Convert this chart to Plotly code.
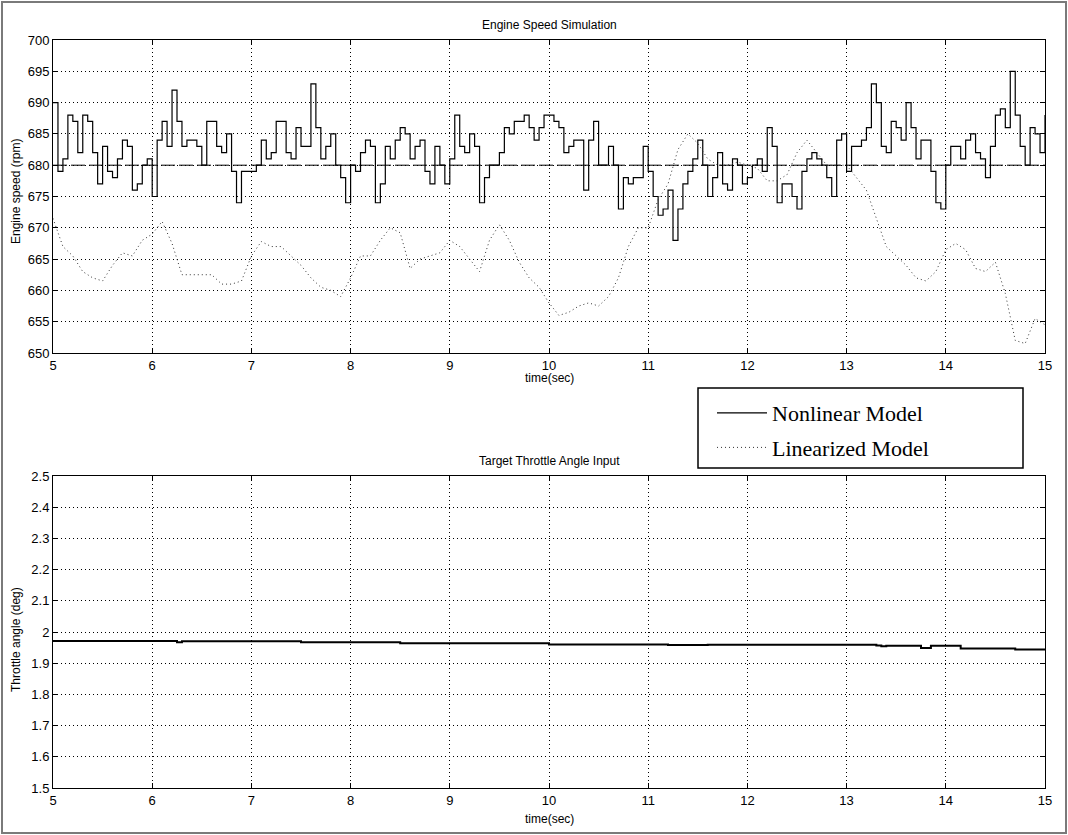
import numpy as np
import plotly.graph_objects as go

# ---- engine speed (rpm), sampled every 0.05 s from 5 s to 15 s ----
speed_time = np.round(np.linspace(5.0, 15.0, 201), 2)
nonlinear_rpm = [
    690, 679, 681, 688, 687, 682, 688, 687, 682, 677,
    683, 679, 678, 681, 684, 683, 676, 677, 680, 681,
    675, 684, 687, 683, 692, 687, 683, 684, 684, 683,
    680, 687, 687, 683, 682, 685, 679, 674, 679, 679,
    679, 680, 684, 681, 682, 687, 687, 682, 681, 686,
    683, 683, 693, 686, 681, 683, 685, 680, 678, 674,
    680, 679, 682, 684, 683, 674, 677, 683, 681, 684,
    686, 685, 681, 683, 684, 679, 677, 683, 680, 677,
    681, 688, 683, 682, 685, 683, 674, 678, 680, 680,
    682, 686, 685, 687, 687, 688, 686, 684, 686, 688,
    688, 687, 686, 682, 683, 684, 684, 676, 684, 687,
    680, 680, 683, 680, 673, 678, 677, 678, 678, 683,
    679, 675, 672, 673, 676, 668, 673, 677, 679, 681,
    684, 680, 675, 678, 682, 677, 676, 681, 680, 677,
    678, 680, 681, 679, 686, 683, 674, 677, 677, 675,
    673, 679, 681, 682, 681, 680, 678, 675, 684, 685,
    679, 683, 683, 684, 686, 693, 690, 683, 682, 687,
    686, 684, 690, 686, 681, 684, 684, 679, 674, 673,
    680, 683, 683, 681, 684, 685, 682, 681, 678, 683,
    688, 689, 686, 695, 688, 683, 680, 686, 685, 682,
    688,
]

# linearized model response, sampled every 0.1 s
linear_time = np.round(np.linspace(5.0, 15.0, 101), 2)
linearized_rpm = [
    671.5, 667.0, 665.5, 663.0, 662.0, 661.5, 664.0, 666.0, 665.5, 668.0,
    669.0, 671.0, 667.5, 662.5, 662.5, 662.5, 662.5, 661.0, 661.0, 661.5,
    665.5, 667.8, 667.0, 667.0, 665.5, 664.0, 662.0, 660.5, 660.0, 659.0,
    662.0, 665.5, 665.5, 668.0, 670.0, 669.2, 663.5, 665.0, 665.5, 666.0,
    668.0, 667.0, 665.0, 663.0, 668.0, 670.5, 668.0, 664.5, 662.0, 660.5,
    658.0, 656.0, 656.5, 657.5, 658.0, 657.5, 659.0, 662.0, 667.0, 670.0,
    670.0, 674.5, 677.0, 682.5, 685.0, 683.5, 681.0, 680.0, 680.0, 680.5,
    680.0, 679.5, 677.5, 677.5, 678.5, 682.0, 684.0, 682.0, 680.0, 680.0,
    680.0, 678.0, 676.0, 671.5, 667.0, 665.5, 664.0, 662.0, 661.5, 663.0,
    666.5, 667.5, 666.5, 663.5, 663.0, 664.5, 659.5, 652.0, 651.5, 655.5,
    654.5,
]

target_rpm = 680

# ---- throttle angle input (deg), piecewise constant ----
throttle_time = [5.0, 6.25, 6.3, 7.5, 8.5, 10.0, 11.2, 11.6, 13.3, 13.35,
                 13.4, 13.75, 13.85, 14.15, 14.7, 15.0]
throttle_deg = [1.971, 1.967, 1.970, 1.967, 1.964, 1.960, 1.958, 1.959, 1.957, 1.954,
                1.956, 1.949, 1.956, 1.947, 1.944, 1.944]

time_ticks = [5, 6, 7, 8, 9, 10, 11, 12, 13, 14, 15]
rpm_ticks = [650, 655, 660, 665, 670, 675, 680, 685, 690, 695, 700]
throttle_ticks = [1.5, 1.6, 1.7, 1.8, 1.9, 2.0, 2.1, 2.2, 2.3, 2.4, 2.5]
throttle_tick_text = ["1.5", "1.6", "1.7", "1.8", "1.9", "2", "2.1", "2.2", "2.3", "2.4", "2.5"]

FONT = "Liberation Sans, Arial, sans-serif"
SERIF = "Liberation Serif, Times New Roman, serif"

fig = go.Figure()

fig.add_trace(go.Scatter(
    x=speed_time, y=nonlinear_rpm, mode="lines", line_shape="hv",
    line=dict(color="black", width=1.2), name="Nonlinear Model",
    legendgroup="a", xaxis="x", yaxis="y"))
fig.add_trace(go.Scatter(
    x=linear_time, y=linearized_rpm, mode="lines",
    line=dict(color="#333333", width=1, dash="1px,3px"), name="Linearized Model",
    legendgroup="b", xaxis="x", yaxis="y"))
fig.add_trace(go.Scatter(
    x=[time_ticks[0], time_ticks[-1]], y=[target_rpm, target_rpm], mode="lines",
    line=dict(color="black", width=1, dash="14px,4px"), showlegend=False,
    hoverinfo="skip", xaxis="x", yaxis="y"))
fig.add_trace(go.Scatter(
    x=throttle_time, y=throttle_deg, mode="lines", line_shape="hv",
    line=dict(color="black", width=2), showlegend=False,
    xaxis="x2", yaxis="y2"))

axis_common = dict(
    showline=True, linecolor="black", linewidth=1, mirror="allticks",
    ticks="inside", ticklen=5, tickcolor="black", tickwidth=1,
    showgrid=True, gridcolor="black", gridwidth=1, griddash="1px,3px",
    zeroline=False, tickfont=dict(family=FONT, size=13, color="black"),
)

top_dom = [0.5816, 1.0]
bot_dom = [0.0, 0.4171]

fig.update_layout(
    width=1068, height=835,
    margin=dict(l=53, r=23, t=40, b=47),
    paper_bgcolor="white", plot_bgcolor="white",
    font=dict(family=FONT, color="black"),
    xaxis=dict(axis_common, domain=[0, 1], range=[5, 15], tickvals=time_ticks,
               anchor="y"),
    yaxis=dict(axis_common, domain=top_dom, range=[650, 700], tickvals=rpm_ticks,
               anchor="x"),
    xaxis2=dict(axis_common, domain=[0, 1], range=[5, 15], tickvals=time_ticks,
                anchor="y2"),
    yaxis2=dict(axis_common, domain=bot_dom, range=[1.5, 2.5], tickvals=throttle_ticks,
                ticktext=throttle_tick_text, anchor="x2"),
    showlegend=True,
    legend=dict(
        x=(712 - 53) / 992, y=(788 - 392) / 748, xanchor="left", yanchor="top",
        bgcolor="rgba(0,0,0,0)", borderwidth=0, tracegroupgap=3, itemwidth=50,
        font=dict(family=SERIF, size=22, color="black"),
    ),
)

def px_x(p):
    return (p - 53) / 992

def px_y(p):
    return (788 - p) / 748

annotations = [
    dict(text="Engine Speed Simulation", x=0.5, y=px_y(25)),
    dict(text="Target Throttle Angle Input", x=0.5, y=px_y(461)),
    dict(text="time(sec)", x=0.5, y=px_y(378)),
    dict(text="time(sec)", x=0.5, y=px_y(819)),
    dict(text="Engine speed (rpm)", x=px_x(16), y=px_y(192), textangle=-90),
    dict(text="Throttle angle (deg)", x=px_x(16), y=px_y(640), textangle=-90),
]
for a in annotations:
    fig.add_annotation(xref="paper", yref="paper", showarrow=False,
                       xanchor="center", yanchor="middle",
                       font=dict(family=FONT, size=12, color="black"), **a)

# legend frame and outer figure border
fig.add_shape(type="rect", xref="paper", yref="paper",
              x0=px_x(698), x1=px_x(1023), y0=px_y(468), y1=px_y(388),
              line=dict(color="black", width=1.5), fillcolor="white", layer="below")
fig.add_shape(type="rect", xref="paper", yref="paper",
              x0=px_x(2), x1=px_x(1066), y0=px_y(833), y1=px_y(2),
              line=dict(color="#7a7a7a", width=2), layer="below")

fig.write_html("out.html")
